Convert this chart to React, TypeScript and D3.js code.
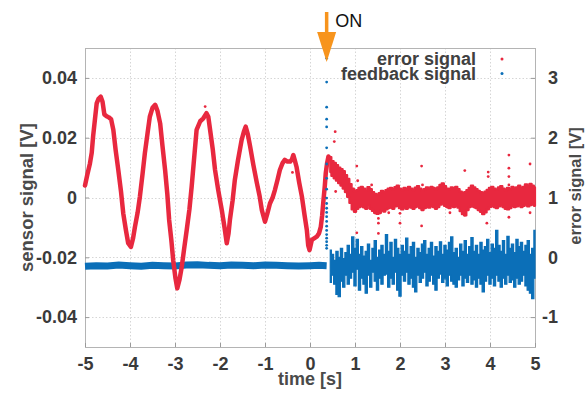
import { useEffect, useRef } from "react";
import * as d3 from "d3";

const W = 587;
const H = 394;

const timeTicks = [-5, -4, -3, -2, -1, 0, 1, 2, 3, 4, 5];
const sensorTicks = [-0.04, -0.02, 0, 0.02, 0.04];
const errorTicks = [-1, 0, 1, 2, 3];

// moment the feedback is switched on [s]
const onTime = 0.37;

// error signal (red, left axis) before the loop closes: [t, V]
const errorBefore = [
  [-5.0, 0.004], [-4.95, 0.0075], [-4.89, 0.0114], [-4.85, 0.015], [-4.82, 0.0204],
  [-4.78, 0.026], [-4.74, 0.0315], [-4.7, 0.033], [-4.65, 0.0337], [-4.61, 0.032],
  [-4.57, 0.0278], [-4.52, 0.0272], [-4.47, 0.0268], [-4.42, 0.0262], [-4.37, 0.0226],
  [-4.32, 0.016], [-4.26, 0.0092], [-4.2, 0.002], [-4.15, -0.0053], [-4.09, -0.011],
  [-4.04, -0.0153], [-3.98, -0.0165], [-3.93, -0.0135], [-3.89, -0.0098], [-3.83, -0.005],
  [-3.78, 0.0003], [-3.72, 0.008], [-3.67, 0.0148], [-3.61, 0.0215], [-3.56, 0.027],
  [-3.5, 0.03], [-3.44, 0.031], [-3.39, 0.029], [-3.33, 0.0248], [-3.28, 0.0175],
  [-3.22, 0.0092], [-3.17, 0.001], [-3.13, -0.0075], [-3.08, -0.0145], [-3.04, -0.021],
  [-2.99, -0.027], [-2.95, -0.0304], [-2.9, -0.0275], [-2.85, -0.0232], [-2.8, -0.0175],
  [-2.74, -0.0109], [-2.68, -0.004], [-2.63, 0.0036], [-2.57, 0.014], [-2.52, 0.0226],
  [-2.44, 0.0255], [-2.37, 0.0265], [-2.3, 0.0282], [-2.26, 0.027], [-2.22, 0.0226],
  [-2.16, 0.016], [-2.11, 0.0092], [-2.04, 0.0025], [-1.96, -0.0042], [-1.9, -0.01],
  [-1.85, -0.0153], [-1.81, -0.012], [-1.78, -0.0075], [-1.72, -0.001], [-1.67, 0.0059],
  [-1.6, 0.0125], [-1.52, 0.0192], [-1.47, 0.022], [-1.43, 0.0237], [-1.38, 0.021],
  [-1.33, 0.017], [-1.26, 0.011], [-1.18, 0.0048], [-1.12, 0.0005], [-1.07, -0.0042],
  [-1.0, -0.0081], [-0.95, -0.0055], [-0.89, -0.002], [-0.83, 0.0], [-0.78, 0.0025],
  [-0.72, 0.006], [-0.67, 0.0092], [-0.61, 0.0115], [-0.56, 0.0126], [-0.5, 0.012],
  [-0.44, 0.012], [-0.4, 0.0128], [-0.37, 0.0142], [-0.33, 0.012], [-0.3, 0.0103],
  [-0.24, 0.005], [-0.18, 0.0003], [-0.12, -0.006], [-0.07, -0.0109], [-0.04, -0.016],
  [-0.01, -0.0176], [0.04, -0.0142], [0.1, -0.0136], [0.15, -0.0131], [0.2, -0.012],
  [0.24, -0.0098], [0.27, -0.006], [0.3, -0.0008], [0.33, 0.004], [0.35, 0.0081],
  [0.38, 0.0115], [0.41, 0.0137],
];

// after switching on, samples every 0.05 s from 0.45 s: upper / lower edge of the noisy band
const bandStart = 0.45;
const bandStep = 0.05;
const errorHi = [
  0.0135, 0.0122, 0.0116, 0.0108, 0.01, 0.0095, 0.0088, 0.0075, 0.0062, 0.0045,
  0.003, 0.002, 0.0025, 0.0032, 0.0036, 0.003, 0.0022, 0.0035, 0.0028, 0.0018,
  0.0012, 0.001, 0.0015, 0.0022, 0.0018, 0.0025, 0.003, 0.0032, 0.0028, 0.0035,
  0.004, 0.003, 0.0025, 0.0032, 0.0028, 0.0036, 0.003, 0.0025, 0.0033, 0.0038,
  0.003, 0.0022, 0.0028, 0.0034, 0.003, 0.0036, 0.0032, 0.0026, 0.0034, 0.0042,
  0.0047, 0.0038, 0.003, 0.0028, 0.0034, 0.003, 0.0036, 0.0028, 0.002, 0.0015,
  0.0018, 0.0025, 0.0032, 0.004, 0.0034, 0.0028, 0.0022, 0.0018, 0.0015, 0.002,
  0.0026, 0.0032, 0.0036, 0.003, 0.0026, 0.0034, 0.0038, 0.003, 0.0024, 0.0032,
  0.0028, 0.0036, 0.003, 0.0034, 0.004, 0.0032, 0.0036, 0.0044, 0.0038, 0.0046,
  0.004, 0.0034,
];
const errorLo = [
  0.0085, 0.0072, 0.0064, 0.0056, 0.0048, 0.004, 0.003, 0.0018, 0.0002, -0.0018,
  -0.004, -0.0048, -0.0038, -0.0032, -0.0028, -0.0033, -0.0038, -0.0026, -0.0038, -0.0045,
  -0.0052, -0.0055, -0.0052, -0.0042, -0.0047, -0.004, -0.0036, -0.0033, -0.0038, -0.003,
  -0.0028, -0.0036, -0.004, -0.0033, -0.0038, -0.003, -0.0034, -0.0038, -0.0032, -0.0026,
  -0.0036, -0.0042, -0.0036, -0.003, -0.0034, -0.0028, -0.0032, -0.0038, -0.0032, -0.0024,
  -0.002, -0.0028, -0.0032, -0.0036, -0.003, -0.0032, -0.0028, -0.0034, -0.0046, -0.0056,
  -0.006, -0.0042, -0.0032, -0.0026, -0.0032, -0.0036, -0.0042, -0.0048, -0.0056, -0.005,
  -0.004, -0.0032, -0.0028, -0.0032, -0.0036, -0.003, -0.0026, -0.0032, -0.0038, -0.004,
  -0.0036, -0.0028, -0.0032, -0.003, -0.0024, -0.0032, -0.0028, -0.0022, -0.003, -0.0026,
  -0.0022, -0.0028,
];
// stray error samples: [t, V]
const errorStray = [
  [-2.33, 0.0304], [-0.39, 0.0084], [0.54, 0.0187], [0.56, 0.022], [0.57, 0.002],
  [0.78, 0.0064], [1.04, 0.0105], [1.06, 0.0056], [1.37, 0.0042], [2.48, 0.0105],
  [2.5, 0.0042], [3.44, 0.009], [3.96, 0.0085], [3.96, 0.007], [4.42, 0.0142],
  [4.42, 0.0098], [4.42, 0.007], [4.42, 0.0042], [4.89, 0.0112], [1.52, -0.007],
  [1.52, -0.0086], [2.0, -0.0053], [2.0, -0.0086], [2.48, -0.0095], [3.11, -0.0051],
  [3.44, -0.0059], [3.93, -0.0086], [4.42, -0.0066], [4.89, -0.0051], [1.04, -0.0118],
  [1.52, -0.012], [1.75, -0.0051],
];

// feedback signal (blue, right axis) before switching on: [t, V]
const feedbackBefore = [
  [-5, -0.15], [-4.75, -0.14], [-4.5, -0.145], [-4.25, -0.13], [-4, -0.14],
  [-3.75, -0.15], [-3.5, -0.135], [-3.25, -0.14], [-3, -0.145], [-2.75, -0.13],
  [-2.5, -0.125], [-2.25, -0.135], [-2, -0.14], [-1.75, -0.13], [-1.5, -0.135],
  [-1.25, -0.14], [-1, -0.13], [-0.75, -0.135], [-0.5, -0.14], [-0.25, -0.145],
  [0, -0.14], [0.2, -0.135], [0.37, -0.14],
];
// jump at switch-on, all at onTime
const feedbackJump = [
  3.33, 2.93, 2.51, 2.31, 2.18, 1.83, 1.56, 1.32, 1.14, 0.99, 0.9, 0.82, 0.75,
  0.68, 0.6, 0.52, 0.45, 0.38, 0.32, 0.26, 0.2, 0.15,
];
const feedbackHi = [
  0.12, 0.05, -0.05, 0.1, 0.0, 0.15, -0.02, 0.08, 0.2, 0.05,
  0.34, 0.15, 0.3, 0.05, 0.18, 0.02, 0.1, 0.22, -0.05, 0.15,
  0.28, 0.0, 0.12, 0.2, 0.05, 0.38, 0.1, 0.25, 0.0, 0.3,
  0.15, 0.05, 0.2, 0.1, 0.32, 0.05, 0.18, 0.25, 0.0, 0.15,
  0.08, 0.22, 0.28, 0.05, 0.15, 0.25, 0.02, 0.18, 0.1, 0.26,
  0.05, 0.2, 0.12, 0.25, 0.34, 0.08, 0.15, 0.0, 0.22, 0.1,
  0.28, 0.05, 0.18, 0.33, 0.1, 0.2, 0.05, 0.25, 0.12, 0.18,
  0.3, 0.08, 0.22, 0.15, 0.45, 0.2, 0.1, 0.28, 0.05, 0.35,
  0.15, 0.22, 0.08, 0.3, 0.18, 0.25, 0.1, 0.2, 0.28, 0.05,
  0.15, 0.45,
];
const feedbackLo = [
  -0.42, -0.3, -0.45, -0.62, -0.66, -0.4, -0.5, -0.3, -0.45, -0.35,
  -0.25, -0.48, -0.2, -0.55, -0.35, -0.45, -0.6, -0.3, -0.5, -0.25,
  -0.4, -0.55, -0.35, -0.45, -0.3, -0.28, -0.5, -0.35, -0.45, -0.25,
  -0.55, -0.65, -0.3, -0.4, -0.25, -0.45, -0.35, -0.5, -0.58, -0.3,
  -0.42, -0.35, -0.25, -0.48, -0.4, -0.3, -0.45, -0.55, -0.35, -0.28,
  -0.42, -0.36, -0.48, -0.3, -0.4, -0.45, -0.5, -0.38, -0.3, -0.48,
  -0.35, -0.42, -0.3, -0.45, -0.38, -0.5, -0.35, -0.45, -0.58, -0.4,
  -0.3, -0.45, -0.35, -0.48, -0.3, -0.4, -0.5, -0.35, -0.45, -0.3,
  -0.42, -0.38, -0.5, -0.35, -0.45, -0.4, -0.3, -0.48, -0.55, -0.6,
  -0.69, -0.35,
];

const legendLabels = ["error signal", "feedback signal"];

const RED = "#e8283f";
const BLUE = "#0b6fb8";
const ORANGE = "#f7941d";
const FONT = "'Liberation Sans', Arial, Helvetica, sans-serif";

function App() {
  const svgRef = useRef<SVGSVGElement>(null);

  useEffect(() => {
    const svg = d3.select(svgRef.current);
    svg.selectAll("*").remove();

    const Margin = { top: 48, right: 52, bottom: 47, left: 85 };
    const x = d3.scaleLinear().domain([-5, 5]).range([Margin.left, W - Margin.right]);
    const yL = d3.scaleLinear().domain([-0.05, 0.05]).range([H - Margin.bottom, Margin.top]);
    const yR = d3.scaleLinear().domain([-1.5, 3.5]).range([H - Margin.bottom, Margin.top]);
    const [x0, x1] = x.range();
    const [yb, yt] = yL.range();
    const bandT = errorHi.map((_, i) => bandStart + i * bandStep);

    // grid
    const grid = svg
      .append("g")
      .attr("stroke", "#d6d6d6")
      .attr("stroke-width", 1)
      .attr("stroke-dasharray", "1.5,2");
    grid
      .selectAll(".gx")
      .data(timeTicks.slice(1, -1))
      .join("line")
      .attr("x1", (d) => Math.round(x(d)) + 0.5)
      .attr("x2", (d) => Math.round(x(d)) + 0.5)
      .attr("y1", yt)
      .attr("y2", yb);
    grid
      .selectAll(".gy")
      .data(sensorTicks)
      .join("line")
      .attr("x1", x0)
      .attr("x2", x1)
      .attr("y1", (d) => Math.round(yL(d)) + 0.5)
      .attr("y2", (d) => Math.round(yL(d)) + 0.5);

    // frame
    svg
      .append("rect")
      .attr("x", x0 + 0.5)
      .attr("y", yt + 0.5)
      .attr("width", x1 - x0)
      .attr("height", yb - yt)
      .attr("fill", "none")
      .attr("stroke", "#b4b4b4");

    // axes
    const styleAxis = (g, size) => {
      g.select(".domain").remove();
      g.attr("font-size", size).attr("font-family", FONT).attr("font-weight", "bold");
      g.selectAll("line").attr("stroke", "#9a9a9a");
      g.selectAll("text").attr("fill", "#3a3a3a");
    };
    const fmt = (d) => String(d);

    svg
      .append("g")
      .attr("transform", `translate(0,${yb})`)
      .call(d3.axisBottom(x).tickValues(timeTicks).tickFormat(fmt).tickSizeInner(-4).tickSizeOuter(0).tickPadding(10))
      .call((g) => styleAxis(g, 18));

    svg
      .append("g")
      .attr("transform", `translate(${x0},0)`)
      .call(d3.axisLeft(yL).tickValues(sensorTicks).tickFormat(fmt).tickSizeInner(-4).tickSizeOuter(0).tickPadding(8))
      .call((g) => styleAxis(g, 18));

    svg
      .append("g")
      .attr("transform", `translate(${x1},0)`)
      .call(d3.axisRight(yR).tickValues(errorTicks).tickFormat(fmt).tickSizeInner(-4).tickSizeOuter(0).tickPadding(23))
      .call((g) => {
        styleAxis(g, 18);
        g.selectAll("text").attr("text-anchor", "end");
      });

    // axis titles
    const title = (text, tx, ty, rot, size) =>
      svg
        .append("text")
        .attr("transform", `translate(${tx},${ty}) rotate(${rot})`)
        .attr("text-anchor", "middle")
        .attr("font-family", FONT)
        .attr("font-weight", "bold")
        .attr("font-size", size)
        .attr("fill", "#4a4a4a")
        .text(text);
    title("time [s]", (x0 + x1) / 2, 385, 0, 18);
    title("sensor signal [V]", 33, yL(0), -90, 18.5);
    title("error signal [V]", 581, 186, -90, 16.5);

    // feedback signal
    const fb = svg.append("g");
    fb.append("path")
      .datum(feedbackBefore)
      .attr("fill", "none")
      .attr("stroke", BLUE)
      .attr("stroke-width", 7)
      .attr("d", d3.line().x((d) => x(d[0])).y((d) => yR(d[1])));
    fb.append("path")
      .datum(bandT)
      .attr("fill", BLUE)
      .attr("stroke", BLUE)
      .attr("stroke-width", 1.2)
      .attr(
        "d",
        d3
          .area()
          .curve(d3.curveStep)
          .x((t) => x(t))
          .y0((t, i) => yR(feedbackLo[i]))
          .y1((t, i) => yR(feedbackHi[i]))
      );

    // error signal
    const er = svg.append("g");
    er.append("path")
      .datum(errorBefore)
      .attr("fill", "none")
      .attr("stroke", RED)
      .attr("stroke-width", 4.5)
      .attr("stroke-linejoin", "round")
      .attr("stroke-linecap", "round")
      .attr("d", d3.line().x((d) => x(d[0])).y((d) => yL(d[1])));
    er.append("path")
      .datum(bandT)
      .attr("fill", RED)
      .attr("stroke", RED)
      .attr("stroke-width", 2.2)
      .attr("stroke-linejoin", "round")
      .attr(
        "d",
        d3
          .area()
          .curve(d3.curveStep)
          .x((t) => x(t))
          .y0((t, i) => yL(errorLo[i]))
          .y1((t, i) => yL(errorHi[i]))
      );
    er.selectAll(".estray")
      .data(errorStray)
      .join("circle")
      .attr("fill", RED)
      .attr("r", 1.4)
      .attr("cx", (d) => x(d[0]))
      .attr("cy", (d) => yL(d[1]));

    // jump of the feedback at switch-on
    svg
      .append("g")
      .selectAll("circle")
      .data(feedbackJump)
      .join("circle")
      .attr("fill", BLUE)
      .attr("r", 1.4)
      .attr("cx", x(onTime))
      .attr("cy", (v) => yR(v));

    // legend
    const lg = svg.append("g").attr("font-family", FONT).attr("font-weight", "bold").attr("font-size", 18);
    lg.selectAll("text")
      .data(legendLabels)
      .join("text")
      .attr("x", 476)
      .attr("y", (d, i) => 65 + i * 14.5)
      .attr("text-anchor", "end")
      .attr("fill", "#404040")
      .text((d) => d);
    lg.selectAll("circle")
      .data(legendLabels)
      .join("circle")
      .attr("cx", 502)
      .attr("cy", (d, i) => 59 + i * 14.5)
      .attr("r", 1.5)
      .attr("fill", (d, i) => (i === 0 ? RED : BLUE));

    // "ON" arrow
    const ax = x(onTime);
    svg
      .append("line")
      .attr("x1", ax)
      .attr("x2", ax)
      .attr("y1", 12)
      .attr("y2", 36)
      .attr("stroke", ORANGE)
      .attr("stroke-width", 3.5);
    svg
      .append("path")
      .attr("d", `M${ax - 9.5},32 L${ax + 9.5},32 L${ax},62 Z`)
      .attr("fill", ORANGE);
    svg
      .append("text")
      .attr("x", ax + 8.5)
      .attr("y", 27)
      .attr("font-family", FONT)
      .attr("font-size", 18)
      .attr("fill", "#111")
      .text("ON");
  }, []);

  return (
    <svg
      ref={svgRef}
      width={W}
      height={H}
      style={{ position: "absolute", left: 0, top: 0, background: "#fff" }}
    ></svg>
  );
}

export default App;
